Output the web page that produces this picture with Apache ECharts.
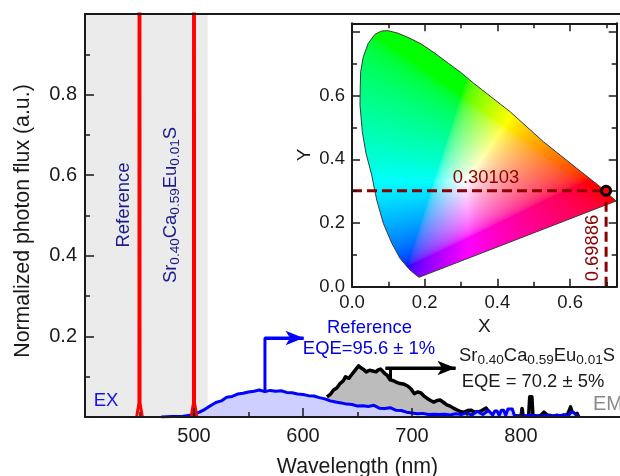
<!DOCTYPE html>
<html><head><meta charset="utf-8">
<style>html,body{margin:0;padding:0;background:#fff}#c{width:620px;height:476px}</style>
<script src="https://cdn.jsdelivr.net/npm/echarts@6/dist/echarts.min.js"></script>
</head><body><div id="c"></div>
<script>
const FONT='"Liberation Sans",Arial,sans-serif';
// EM spectrum (black), wavelength nm / normalized flux
const emWl=[622,625,628,631,634,637,639,642,644,647,649,651,653,656,658,661,664,667,669,671,673,675,677,680,683,686,689,692,696,699,702,705,708,711,714,717,720,723,726,729,732,735,738,741,745,748,751,754,757,761,764,768,770,772,776,780,785,790,795,800,801,802,805,807,808,810,811,815,818,821,824,828,832,836,840,843,845.5,847,850,851.5,853];
const emVal=[.050,.056,.067,.072,.083,.090,.100,.096,.103,.113,.120,.127,.122,.117,.112,.116,.114,.112,.117,.119,.114,.108,.104,.092,.090,.086,.083,.082,.077,.070,.058,.062,.060,.052,.046,.041,.037,.041,.042,.036,.030,.027,.022,.018,.013,.012,.016,.017,.013,.012,.016,.022,.015,.009,.004,.003,.002,.002,.003,.002,.021,.002,.002,.002,.050,.050,.002,.002,.004,.012,.005,.003,.002,.003,.003,.008,.025,.010,.003,.009,.000];
// Reference spectrum (blue)
const refWl=[470,480,490,495,500,505,510,515,520,525,530,535,540,545,550,555,560,565,570,575,580,585,590,595,600,605,610,615,620,625,630,635,640,645,650,655,660,665,670,675,680,685,690,695,700,705,710,715,720,725,730,735,740,745,750,755,760,765,770,774,776,778,780,782,784,786,788,790,792,794,797,800,808,813,818,824,828,833,836,839,843,846,848,851,853];
const refVal=[.000,.001,.002,.004,.006,.012,.019,.028,.036,.040,.049,.051,.057,.059,.062,.064,.067,.063,.066,.064,.065,.061,.060,.057,.056,.053,.052,.048,.045,.040,.037,.035,.032,.031,.027,.028,.026,.029,.022,.021,.023,.017,.016,.012,.010,.008,.009,.006,.007,.006,.007,.005,.008,.006,.010,.005,.014,.006,.016,.005,.015,.015,.004,.017,.017,.004,.020,.020,.020,.003,.001,.001,.004,.004,.001,.004,.001,.005,.002,.006,.002,.012,.012,.004,.000];
// Excitation lines (red)
const exWlA=[447.4,449.5,450,450.5,452.6], exValA=[0,.035,6,.035,0];
const exWlB=[497.4,499.5,500,500.5,502.6], exValB=[0,.035,6,.035,0];
// Excitation band
const bandWl=[400,512.5];
// Annotation arrows
const blueArrowWl=[565.1,565.1,600.5], blueArrowVal=[.067,.196,.196];
const blackArrowWl=[680.3,680.3,675.7,739.9], blackArrowVal=[.092,.1216,.1216,.1216];
// Chromaticity boundary
const boundaryX=[.1843,.1690,.1549,.1320,.1092,.0861,.0680,.0542,.0385,.0283,.0220,.0228,.0239,.0311,.0448,.0633,.0817,.0999,.1274,.1596,.1917,.2283,.2649,.2971,.3337,.4347,.5263,.6181,.6823,.7263];
const boundaryY=[.0295,.0430,.0578,.0892,.1372,.1991,.2722,.3507,.4188,.4867,.5705,.6333,.6750,.7221,.7642,.7925,.8028,.8038,.7956,.7799,.7611,.7328,.7014,.6747,.6396,.5495,.4553,.3717,.3140,.2691];
const pointX=.69886, pointY=.30103;
const mainXTicks=['500','600','700','800'], mainYTicks=['0.2','0.4','0.6','0.8'];
const insetXTicks=['0.0','0.2','0.4','0.6'], insetYTicks=['0.0','0.2','0.4','0.6'];

const zip=(a,b)=>a.map((v,i)=>[v,b[i]]);
const INX=.728, INY=.827;
function gamut(){
  const W=530,H=527,cv=document.createElement('canvas');cv.width=W;cv.height=H;
  const ctx=cv.getContext('2d'),im=ctx.createImageData(W,H);
  const g=v=>v<=.0031308?12.92*v:1.055*Math.pow(v,1/2.4)-.055;
  for(let j=0;j<H;j++)for(let i=0;i<W;i++){
    const x=(i+.5)/W*INX,y=Math.max((1-(j+.5)/H)*INY,.001);
    const X=x/y,Z=(1-x-y)/y;
    let r=3.2406*X-1.5372-.4986*Z,gg=-.9689*X+1.8758+.0415*Z,b=.0557*X-.204+1.057*Z;
    r=Math.max(r,0);gg=Math.max(gg,0);b=Math.max(b,0);
    const m=Math.max(r,gg,b,1e-6);
    const k=(i+j*W)*4;
    im.data[k]=255*g(r/m);im.data[k+1]=255*g(gg/m);im.data[k+2]=255*g(b/m);im.data[k+3]=255;
  }
  ctx.putImageData(im,0,0);return cv;
}
const gamutCanvas=gamut();

const axCol='#1a1a1a';
function mainAxisBase(){return{axisLine:{show:true,onZero:false,lineStyle:{color:axCol,width:2}},splitLine:{show:false},z:10};}
const series=[
 {type:'line',name:'band',xAxisIndex:0,yAxisIndex:0,data:[[400,0]],symbol:'none',lineStyle:{width:0},silent:true,z:1,
  markArea:{silent:true,itemStyle:{color:'#ebebeb'},data:[[{coord:[bandWl[0],0]},{coord:[bandWl[1],1]}]]}},
 {type:'line',name:'EM',xAxisIndex:0,yAxisIndex:0,data:zip(emWl,emVal),symbol:'none',z:3,
  lineStyle:{color:'#000',width:3.5,join:'round'},areaStyle:{color:'#bcbcbc',opacity:1}},
 {type:'line',name:'Reference',xAxisIndex:0,yAxisIndex:0,data:zip(refWl,refVal),symbol:'none',z:4,
  lineStyle:{color:'#0000ff',width:3,join:'round'},areaStyle:{color:'#ceceff',opacity:1}},
 {type:'line',name:'EXa',xAxisIndex:0,yAxisIndex:0,data:zip(exWlA,exValA),symbol:'none',z:5,lineStyle:{color:'#ff0000',width:3}},
 {type:'line',name:'EXb',xAxisIndex:0,yAxisIndex:0,data:zip(exWlB,exValB),symbol:'none',z:5,lineStyle:{color:'#ff0000',width:3}},
 {type:'line',name:'blueArrow',xAxisIndex:0,yAxisIndex:0,data:zip(blueArrowWl,blueArrowVal),symbol:'none',z:6,lineStyle:{color:'#0000ff',width:3},
  markLine:{silent:true,symbol:['none','arrow'],symbolSize:[11,18],animation:false,lineStyle:{color:'#0000ff',width:3,type:'solid'},label:{show:false},
   data:[[{coord:[blueArrowWl[1],blueArrowVal[1]]},{coord:[blueArrowWl[2],blueArrowVal[2]]}]]}},
 {type:'line',name:'blackArrow',xAxisIndex:0,yAxisIndex:0,data:zip(blackArrowWl,blackArrowVal),symbol:'none',z:6,lineStyle:{color:'#000',width:3},
  markLine:{silent:true,symbol:['none','arrow'],symbolSize:[11,18],animation:false,lineStyle:{color:'#000',width:3,type:'solid'},label:{show:false},
   data:[[{coord:[blackArrowWl[2],blackArrowVal[2]]},{coord:[blackArrowWl[3],blackArrowVal[3]]}]]}},
 {type:'custom',name:'gamut',xAxisIndex:2,yAxisIndex:1,coordinateSystem:'cartesian2d',clip:false,silent:true,z:6,
  data:zip(boundaryX,boundaryY),encode:{x:0,y:1},
  renderItem:(params,api)=>{
    if(params.dataIndex!==0)return null;
    const pts=boundaryX.map((x,i)=>api.coord([x,boundaryY[i]]));
    const a=api.coord([0,INY]),b=api.coord([INX,0]);
    return {type:'group',children:[
      {type:'image',style:{image:gamutCanvas,x:a[0],y:a[1],width:b[0]-a[0],height:b[1]-a[1]},
       clipPath:{type:'polygon',shape:{points:pts}}},
      {type:'polygon',shape:{points:pts},style:{fill:'none',stroke:'#3a3a3a',lineWidth:1,lineJoin:'round'}}
    ]};
  }},
 {type:'line',name:'hdash',xAxisIndex:2,yAxisIndex:1,data:[[0,pointY],[pointX,pointY]],symbol:'none',z:7,clip:false,lineStyle:{color:'#8b0000',width:3,type:[10,5]}},
 {type:'line',name:'vdash',xAxisIndex:2,yAxisIndex:1,data:[[pointX,0],[pointX,pointY]],symbol:'none',z:7,lineStyle:{color:'#8b0000',width:3,type:[10,5]}},
 {type:'scatter',name:'point',xAxisIndex:2,yAxisIndex:1,data:[[pointX,pointY]],symbol:'circle',symbolSize:9,z:8,itemStyle:{color:'#ff0000',borderColor:'#000',borderWidth:3,opacity:1}}
];
const subRich={m:{fontSize:18.4,lineHeight:20,verticalAlign:'top',fontFamily:FONT},s:{fontSize:13.6,lineHeight:10,verticalAlign:'bottom',fontFamily:FONT}};
function richStyle(color){
  const r={};for(const k in subRich)r[k]=Object.assign({},subRich[k],{fill:color});return r;
}
const SR='{m|Sr}{s|0.40}{m|Ca}{s|0.59}{m|Eu}{s|0.01}{m|S}';
function txt(text,x,y,color,size,extra){
  return Object.assign({type:'text',x,y,z:50,silent:true,style:{text,fill:color,font:size+'px '+FONT,align:'center',verticalAlign:'middle'}},extra||{});
}
const insetAxis=(o)=>Object.assign({type:'value',gridIndex:1,z:9,axisLine:{show:true,onZero:false,lineStyle:{color:axCol,width:2}},splitLine:{show:false},interval:.2,
   axisTick:{show:true,inside:true,length:8,lineStyle:{color:axCol,width:1.5}},minorTick:{show:true,splitNumber:2,length:5,lineStyle:{color:axCol,width:1.5}},axisLabel:{show:false}},o);
const option={
 animation:false,backgroundColor:'#fff',
 textStyle:{fontFamily:FONT},
 grid:[
  {left:85,top:14,width:545,height:403,show:false,outerBoundsMode:'none',containLabel:false},
  {left:352,top:23.3,width:264.7,height:263.4,show:true,backgroundColor:'#fff',borderWidth:0,z:5,outerBoundsMode:'none',containLabel:false}
 ],
 xAxis:[
  Object.assign(mainAxisBase(),{type:'value',gridIndex:0,position:'bottom',min:400,max:900,interval:100,
   axisTick:{show:true,inside:true,length:9,lineStyle:{color:axCol,width:1.5}},
   minorTick:{show:true,splitNumber:2,length:5,lineStyle:{color:axCol,width:1.5}},minorSplitLine:{show:false},
   axisLabel:{fontSize:20,color:'#1a1a1a',fontFamily:FONT,margin:9,formatter:v=>mainXTicks.includes(String(v))?String(v):''},
   name:'Wavelength (nm)',nameLocation:'middle',nameGap:40,nameTextStyle:{fontSize:21.3,color:'#1a1a1a',fontFamily:FONT}}),
  Object.assign(mainAxisBase(),{type:'value',gridIndex:0,position:'top',min:400,max:900,interval:100,axisTick:{show:false},axisLabel:{show:false}}),
  insetAxis({position:'bottom',min:0,max:INX,
   axisLabel:{show:true,fontSize:18.5,color:'#1a1a1a',fontFamily:FONT,margin:7,showMaxLabel:false,formatter:v=>insetXTicks.includes(v.toFixed(1))?v.toFixed(1):''},
   name:'X',nameLocation:'middle',nameGap:30,nameTextStyle:{fontSize:19,color:'#1a1a1a',fontFamily:FONT}}),
  insetAxis({position:'top',min:0,max:INX})
 ],
 yAxis:[
  Object.assign(mainAxisBase(),{type:'value',gridIndex:0,position:'left',min:0,max:1,interval:.2,
   axisTick:{show:true,inside:true,length:9,lineStyle:{color:axCol,width:1.5}},
   minorTick:{show:true,splitNumber:2,length:5,lineStyle:{color:axCol,width:1.5}},
   axisLabel:{fontSize:20,color:'#1a1a1a',fontFamily:FONT,margin:8,formatter:v=>mainYTicks.includes(v.toFixed(1))?v.toFixed(1):''},
   name:'Normalized photon flux (a.u.)',nameLocation:'middle',nameGap:51,nameTextStyle:{fontSize:21.3,color:'#1a1a1a',fontFamily:FONT,padding:[0,11,0,0]}}),
  insetAxis({position:'left',min:0,max:INY,
   axisLabel:{show:true,fontSize:18.5,color:'#1a1a1a',fontFamily:FONT,margin:7,showMaxLabel:false,formatter:v=>insetYTicks.includes(v.toFixed(1))?v.toFixed(1):''},
   name:'Y',nameLocation:'middle',nameGap:38,nameTextStyle:{fontSize:19,color:'#1a1a1a',fontFamily:FONT}}),
  insetAxis({position:'right',min:0,max:INY})
 ],
 series,
 graphic:[
  txt('EX',106,401,'#1414e6',18.5),
  txt('EM',608,404,'#8a8a8a',20),
  txt('Reference',369.5,328,'#0000e6',18.4),
  txt('EQE=95.6 \u00b1 1%',369,349,'#0000e6',18.4),
  {type:'text',x:459,y:357,z:50,silent:true,style:{text:SR,rich:richStyle('#1a1a1a'),align:'left',verticalAlign:'middle'}},
  txt('EQE = 70.2 \u00b1 5%',533,382,'#1a1a1a',18.4),
  txt('Reference',124,205,'#1a1a8c',18.4,{rotation:Math.PI/2}),
  {type:'text',x:172,y:205,z:50,rotation:Math.PI/2,silent:true,style:{text:SR,rich:richStyle('#1a1a8c'),align:'center',verticalAlign:'middle'}},
  txt('0.30103',486,177.5,'#8b0000',18.4),
  txt('0.69886',593,248,'#8b0000',18.4,{rotation:Math.PI/2})
 ]
};
const chart=echarts.init(document.getElementById('c'),null,{renderer:'canvas',width:620,height:476});
chart.setOption(option);
</script></body></html>
